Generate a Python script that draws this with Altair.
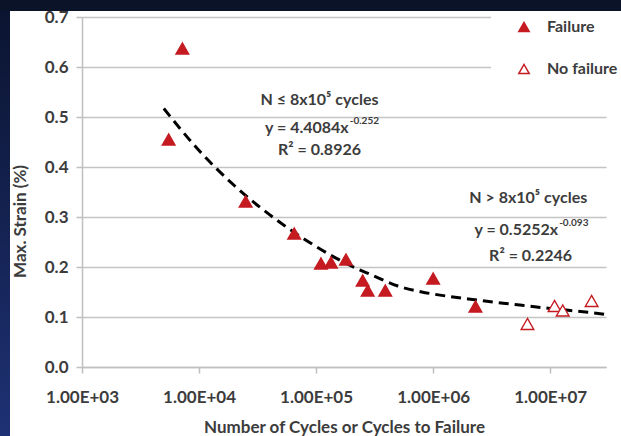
import altair as alt
import pandas as pd

# ---- data ----
fail_n = [5.5e3, 7.2e3, 2.5e4, 6.5e4, 1.1e5, 1.34e5, 1.8e5, 2.5e5, 2.76e5, 3.9e5, 1.0e6, 2.3e6]
fail_s = [0.455, 0.637, 0.331, 0.267, 0.207, 0.209, 0.215, 0.173, 0.153, 0.153, 0.177, 0.121]
nofail_n = [6.4e6, 1.09e7, 1.28e7, 2.26e7]
nofail_s = [0.086, 0.122, 0.113, 0.132]

trend_n = [5.0e3, 1e4, 2e4, 5e4, 1e5, 2e5, 3e5, 5e5, 8e5, 1e6, 2e6, 5e6, 1e7, 2e7, 3.0e7]
trend_s = [0.517, 0.433, 0.363, 0.288, 0.241, 0.202, 0.184, 0.162, 0.150, 0.146, 0.136, 0.125, 0.117, 0.110, 0.105]

ann_text = ["N ≤ 8x10⁵ cycles", "R² = 0.8926", "N > 8x10⁵ cycles", "R² = 0.2246"]
ann_n = [1.07e5, 1.07e5, 6.5e6, 6.8e6]
ann_s = [0.534, 0.434, 0.338, 0.222]

eq_text = ["y = 4.4084x", "y = 0.5252x"]
eq_sup = ["-0.252", "-0.093"]
eq_n = [1.9e5, 1.17e7]
eq_s = [0.478, 0.274]

x_ticks = [1e3, 1e4, 1e5, 1e6, 1e7]
y_ticks = [0.0, 0.1, 0.2, 0.3, 0.4, 0.5, 0.6, 0.7]

FONT = "Lato"
TXT = "#3c3c3c"
RED = "#c41a20"
W, H = 524, 350
PL, PT, PR, PB = 82, 17, 15, 69

pts = pd.DataFrame({
    "n": fail_n + nofail_n,
    "s": fail_s + nofail_s,
    "status": ["Failure"] * len(fail_n) + ["No failure"] * len(nofail_n),
})
trend = pd.DataFrame({"n": trend_n, "s": trend_s})
ann = pd.DataFrame({"label": ann_text, "n": ann_n, "s": ann_s})
eq = pd.DataFrame({"label": eq_text, "sup": eq_sup, "n": eq_n, "s": eq_s})

xscale = alt.Scale(type="log", domain=[1000, 3.0e7], nice=False)
yscale = alt.Scale(domain=[0, 0.7], nice=False, zero=True)

dummy = alt.Data(values=[{"a": 1}])

# dark frame around the white slide area
top_strip = alt.Chart(dummy).mark_rect(fill="#0b1328").encode(
    x=alt.value(-PL), x2=alt.value(W + PR), y=alt.value(-PT), y2=alt.value(-6)
)
left_strip = alt.Chart(dummy).mark_rect(
    fill=alt.Gradient(
        gradient="linear", x1=0, x2=0, y1=0, y2=1,
        stops=[alt.GradientStop(color="#0b1430", offset=0),
               alt.GradientStop(color="#1e3174", offset=1)],
    )
).encode(x=alt.value(-PL), x2=alt.value(-PL + 10), y=alt.value(-6), y2=alt.value(H + PB))

# white patch behind the legend (hides the grid there, as in the reference)
legend_patch = alt.Chart(dummy).mark_rect(fill="white").encode(
    x=alt.value(409), x2=alt.value(W + PR), y=alt.value(-6), y2=alt.value(75)
)

xenc = alt.X("n:Q", scale=xscale, axis=alt.Axis(
    values=x_ticks, labelExpr="'1.00E+0' + round(log(datum.value)/LN10)",
    labelFlush=False, labelOverlap=False,
    title="Number of Cycles or Cycles to Failure", grid=False,
    domainColor="#bfbfbf", domainWidth=1.5, tickColor="#bfbfbf", tickWidth=1.5, tickSize=6,
    labelFont=FONT, labelFontSize=17, labelFontWeight="bold", labelColor=TXT, labelPadding=16,
    titleFont=FONT, titleFontSize=17, titleFontWeight="bold", titleColor=TXT, titlePadding=14,
))
yenc = alt.Y("s:Q", scale=yscale, axis=alt.Axis(
    values=y_ticks, format=".1f", title="Max. Strain (%)",
    grid=True, gridColor="#c4c4c4", gridWidth=1.5,
    domainColor="#bfbfbf", domainWidth=1.5, tickColor="#bfbfbf", tickWidth=1.5, tickSize=6,
    labelFont=FONT, labelFontSize=17, labelFontWeight="bold", labelColor=TXT, labelPadding=8,
    labelFlush=False,
    titleFont=FONT, titleFontSize=17, titleFontWeight="bold", titleColor=TXT,
    titleX=-62, titleY=204, titleBaseline="middle", titleAngle=270,
))

line = alt.Chart(trend).mark_line(
    color="black", strokeWidth=3, strokeDash=[10, 6], interpolate="monotone"
).encode(x=alt.X("n:Q", scale=xscale), y=alt.Y("s:Q", scale=yscale))

points = alt.Chart(pts).mark_point(
    shape="triangle-up", size=160, filled=True, stroke=RED, strokeWidth=1.4, opacity=1
).encode(
    x=xenc, y=yenc,
    fill=alt.Fill("status:N",
                  scale=alt.Scale(domain=["Failure", "No failure"], range=[RED, "#ffffff"]),
                  legend=alt.Legend(
                      title=None, orient="none", legendX=434, legendY=2, padding=0,
                      symbolType="triangle-up", symbolSize=110, symbolStrokeColor=RED,
                      symbolStrokeWidth=1.4, labelOffset=15, rowPadding=26,
                      labelFont=FONT, labelFontSize=16, labelFontWeight="bold", labelColor=TXT,
                  )),
)

ann_layer = alt.Chart(ann).mark_text(
    font=FONT, fontSize=16, fontWeight="bold", color=TXT, align="center", baseline="middle"
).encode(x=alt.X("n:Q", scale=xscale), y=alt.Y("s:Q", scale=yscale), text="label:N")

eq_main = alt.Chart(eq).mark_text(
    font=FONT, fontSize=16, fontWeight="bold", color=TXT, align="right", baseline="middle"
).encode(x=alt.X("n:Q", scale=xscale), y=alt.Y("s:Q", scale=yscale), text="label:N")

eq_sup_layer = alt.Chart(eq).mark_text(
    font=FONT, fontSize=10, fontWeight="bold", color=TXT, align="left", baseline="middle", dy=-7, dx=1
).encode(x=alt.X("n:Q", scale=xscale), y=alt.Y("s:Q", scale=yscale), text="sup:N")

chart = alt.layer(
    top_strip, left_strip, legend_patch, line, points, ann_layer, eq_main, eq_sup_layer
).properties(
    width=W, height=H,
    autosize=alt.AutoSizeParams(type="none"),
    padding={"left": PL, "top": PT, "right": PR, "bottom": PB},
    background="white",
).configure_view(stroke=None)

chart.save("out.html", embed_options={"renderer": "svg", "actions": False})
